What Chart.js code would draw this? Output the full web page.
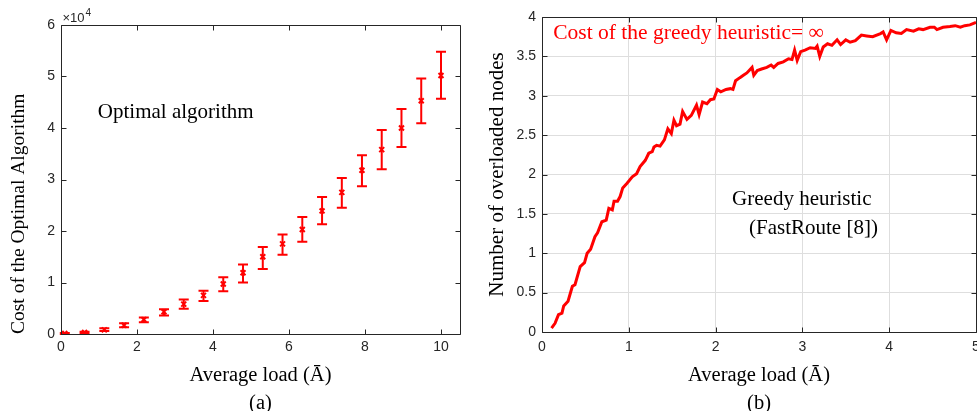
<!DOCTYPE html>
<html>
<head>
<meta charset="utf-8">
<script src="https://cdn.jsdelivr.net/npm/chart.js@4.4.1/dist/chart.umd.min.js"></script>
<style>
  body { margin: 0; background: #fff; }
  #wrap { position: relative; width: 977px; height: 411px; overflow: hidden; }
  #costChart { position: absolute; left: 0; top: 0; }
  #greedyChart { position: absolute; left: 480px; top: 0; }
</style>
</head>
<body>
<div id="wrap">
  <canvas id="costChart" width="480" height="420"></canvas>
  <canvas id="greedyChart" width="497" height="420"></canvas>
</div>
<script>
// (a) cost of the optimal algorithm vs average load, with error bars
var loadA = [0.1, 0.62, 1.14, 1.66, 2.18, 2.71, 3.23, 3.75, 4.27, 4.79,
             5.31, 5.83, 6.35, 6.87, 7.39, 7.92, 8.44, 8.96, 9.48, 10.0];
var costMean = [100, 300, 800, 1700, 2800, 4300, 5800, 7500, 9700, 11900,
                15000, 17500, 20300, 23900, 27500, 31800, 35800, 40000, 45300, 50200];
var costLow = [0, 100, 600, 1300, 2300, 3600, 4900, 6400, 8300, 10000,
               12600, 15400, 17900, 21300, 24500, 28700, 32000, 36300, 40900, 45700];
var costHigh = [200, 450, 1100, 2100, 3200, 4800, 6700, 8400, 11000, 13500,
                16900, 19300, 22700, 26600, 30300, 34700, 39600, 43700, 49600, 54800];
var ticksXA = [0, 2, 4, 6, 8, 10];

// (b) number of overloaded nodes with the greedy heuristic
var loadB = [0.11, 0.15, 0.19, 0.23, 0.25, 0.30, 0.35, 0.38, 0.44, 0.49,
             0.52, 0.56, 0.61, 0.64, 0.69, 0.74, 0.77, 0.81, 0.83, 0.87,
             0.90, 0.93, 0.98, 1.04, 1.09, 1.13, 1.19, 1.23, 1.27, 1.29,
             1.32, 1.36, 1.41, 1.45, 1.49, 1.52, 1.55, 1.59, 1.62, 1.67,
             1.72, 1.78, 1.81, 1.85, 1.90, 1.94, 1.98, 2.02, 2.06, 2.12,
             2.17, 2.20, 2.23, 2.28, 2.32, 2.36, 2.42, 2.44, 2.48, 2.53,
             2.59, 2.64, 2.67, 2.72, 2.78, 2.84, 2.88, 2.91, 2.94, 2.98,
             3.03, 3.09, 3.15, 3.17, 3.20, 3.24, 3.29, 3.34, 3.40, 3.44,
             3.50, 3.55, 3.61, 3.68, 3.74, 3.81, 3.90, 3.93, 3.97, 4.02,
             4.08, 4.14, 4.20, 4.28, 4.34, 4.39, 4.47, 4.52, 4.55, 4.62,
             4.70, 4.76, 4.82, 4.87, 4.93, 5.00];
var overloaded = [0.05, 0.11, 0.22, 0.24, 0.33, 0.39, 0.58, 0.60, 0.83, 0.88,
                  1.00, 1.05, 1.21, 1.26, 1.40, 1.42, 1.57, 1.55, 1.66, 1.66,
                  1.72, 1.83, 1.89, 1.97, 2.01, 2.10, 2.18, 2.27, 2.29, 2.35,
                  2.37, 2.36, 2.44, 2.58, 2.52, 2.69, 2.62, 2.64, 2.80, 2.70,
                  2.75, 2.88, 2.76, 2.92, 2.90, 2.95, 2.96, 3.08, 3.05, 3.08,
                  3.09, 3.08, 3.19, 3.23, 3.26, 3.29, 3.36, 3.26, 3.32, 3.34,
                  3.36, 3.39, 3.36, 3.41, 3.43, 3.47, 3.46, 3.58, 3.45, 3.56,
                  3.58, 3.61, 3.60, 3.63, 3.50, 3.62, 3.66, 3.64, 3.71, 3.65,
                  3.71, 3.68, 3.70, 3.77, 3.76, 3.75, 3.79, 3.81, 3.71, 3.83,
                  3.80, 3.79, 3.84, 3.82, 3.85, 3.84, 3.87, 3.87, 3.84, 3.87,
                  3.88, 3.89, 3.87, 3.89, 3.90, 3.93];

var axisColor = '#262626';
var red = '#ff0000';
var tickFont = { family: 'Liberation Sans', size: 14 };
var serif = 'Liberation Serif';

// matlab style box, inward ticks and text notes
var framePlugin = {
  id: 'frame',
  afterDraw: function (chart, args, opts) {
    var ctx = chart.ctx, a = chart.chartArea;
    var xs = chart.scales.x, ys = chart.scales.y;
    var L = Math.round(a.left) + 0.5, R = Math.round(a.right) + 0.5;
    var T = Math.round(a.top) + 0.5, B = Math.round(a.bottom) + 0.5;
    ctx.save();
    ctx.strokeStyle = axisColor;
    ctx.lineWidth = 1;
    ctx.beginPath();
    xs.ticks.forEach(function (t) {
      var p = Math.round(xs.getPixelForValue(t.value)) + 0.5;
      ctx.moveTo(p, B); ctx.lineTo(p, B - 5);
      ctx.moveTo(p, T); ctx.lineTo(p, T + 5);
    });
    ys.ticks.forEach(function (t) {
      var p = Math.round(ys.getPixelForValue(t.value)) + 0.5;
      ctx.moveTo(L, p); ctx.lineTo(L + 5, p);
      ctx.moveTo(R, p); ctx.lineTo(R - 5, p);
    });
    ctx.rect(L, T, R - L, B - T);
    ctx.stroke();

    (opts.notes || []).forEach(function (n) {
      ctx.font = n.size + 'px ' + serif;
      ctx.fillStyle = n.color;
      ctx.textAlign = 'left';
      ctx.textBaseline = 'middle';
      ctx.fillText(n.text, xs.getPixelForValue(n.x), ys.getPixelForValue(n.y));
    });

    if (opts.exponent) {
      ctx.fillStyle = axisColor;
      ctx.textAlign = 'left';
      ctx.textBaseline = 'alphabetic';
      ctx.font = '13px Liberation Sans';
      ctx.fillText('\u00d710', L + 1, T - 4);
      var w = ctx.measureText('\u00d710').width;
      ctx.font = '10px Liberation Sans';
      ctx.fillText(opts.exponent, L + 2 + w, T - 10);
    }
    ctx.restore();
  }
};

var errorBarPlugin = {
  id: 'errorBars',
  beforeDatasetsDraw: function (chart) {
    var ctx = chart.ctx, xs = chart.scales.x, ys = chart.scales.y;
    ctx.save();
    ctx.strokeStyle = red;
    ctx.lineWidth = 2;
    ctx.beginPath();
    loadA.forEach(function (x, i) {
      var px = xs.getPixelForValue(x);
      var lo = ys.getPixelForValue(costLow[i]);
      var hi = ys.getPixelForValue(costHigh[i]);
      ctx.moveTo(px, lo); ctx.lineTo(px, hi);
      ctx.moveTo(px - 5, lo); ctx.lineTo(px + 5, lo);
      ctx.moveTo(px - 5, hi); ctx.lineTo(px + 5, hi);
    });
    ctx.stroke();
    ctx.restore();
  }
};

new Chart(document.getElementById('costChart'), {
  type: 'scatter',
  data: {
    datasets: [{
      data: loadA.map(function (x, i) { return { x: x, y: costMean[i] }; }),
      pointStyle: 'crossRot',
      pointRadius: 3.5,
      borderWidth: 2,
      borderColor: red,
      backgroundColor: red
    }]
  },
  options: {
    responsive: false,
    animation: false,
    events: [],
    layout: { padding: { top: 25, right: 20, left: 0, bottom: 0 } },
    plugins: {
      legend: { display: false },
      tooltip: { enabled: false },
      frame: {
        exponent: '4',
        notes: [{ text: 'Optimal algorithm', x: 0.97, y: 43000, size: 21, color: '#000' }]
      }
    },
    scales: {
      x: {
        type: 'linear', min: 0, max: 10.5,
        afterBuildTicks: function (s) { s.ticks = ticksXA.map(function (v) { return { value: v }; }); },
        afterFit: function (s) { s.height = 86; s.paddingLeft = 0; s.paddingRight = 0; },
        ticks: { padding: 5, font: tickFont, color: axisColor, maxRotation: 0 },
        grid: { display: false, drawTicks: false },
        border: { display: false },
        title: {
          display: true, text: ['Average load (\u0100)', '(a)'], color: '#000',
          font: { family: serif, size: 20.5, lineHeight: '28px' },
          padding: { top: 0, bottom: 2 }
        }
      },
      y: {
        min: 0, max: 60000,
        afterFit: function (s) { s.width = 61; s.paddingTop = 0; s.paddingBottom = 0; },
        ticks: { stepSize: 10000, padding: 6, font: tickFont, color: axisColor,
                 callback: function (v) { return String(v / 10000); } },
        grid: { display: false, drawTicks: false },
        border: { display: false },
        title: {
          display: true, text: 'Cost of the Optimal Algorithm', align: 'start', color: '#000',
          font: { family: serif, size: 19.5 }, padding: { top: 7, bottom: 0 }
        }
      }
    }
  },
  plugins: [errorBarPlugin, framePlugin]
});

new Chart(document.getElementById('greedyChart'), {
  type: 'scatter',
  data: {
    datasets: [{
      data: loadB.map(function (x, i) { return { x: x, y: overloaded[i] }; }),
      showLine: true,
      pointRadius: 0,
      borderWidth: 3,
      borderColor: red,
      tension: 0
    }]
  },
  options: {
    responsive: false,
    animation: false,
    events: [],
    layout: { padding: { top: 17, right: 1, left: 0, bottom: 0 } },
    plugins: {
      legend: { display: false },
      tooltip: { enabled: false },
      frame: {
        notes: [
          { text: 'Cost of the greedy heuristic= \u221e', x: 0.13, y: 3.79, size: 21.5, color: red },
          { text: 'Greedy heuristic', x: 2.19, y: 1.68, size: 21, color: '#000' },
          { text: '(FastRoute [8])', x: 2.385, y: 1.31, size: 21, color: '#000' }
        ]
      }
    },
    scales: {
      x: {
        type: 'linear', min: 0, max: 5,
        afterFit: function (s) { s.height = 88; s.paddingLeft = 0; s.paddingRight = 0; },
        ticks: { stepSize: 1, padding: 7, font: tickFont, color: axisColor, maxRotation: 0,
                 callback: function (v) { return String(v); } },
        grid: { color: '#dedede', drawTicks: false },
        border: { display: false },
        title: {
          display: true, text: ['Average load (\u0100)', '(b)'], color: '#000',
          font: { family: serif, size: 20.5, lineHeight: '28px' },
          padding: { top: 0, bottom: 2 }
        }
      },
      y: {
        min: 0, max: 4,
        afterFit: function (s) { s.width = 62; s.paddingTop = 0; s.paddingBottom = 0; },
        ticks: { stepSize: 0.5, padding: 6, font: tickFont, color: axisColor,
                 callback: function (v) { return String(v); } },
        grid: { color: '#dedede', drawTicks: false },
        border: { display: false },
        title: {
          display: true, text: 'Number of overloaded nodes', color: '#000',
          font: { family: serif, size: 21 }, padding: { top: 5, bottom: 0 }
        }
      }
    }
  },
  plugins: [framePlugin]
});
</script>
</body>
</html>
